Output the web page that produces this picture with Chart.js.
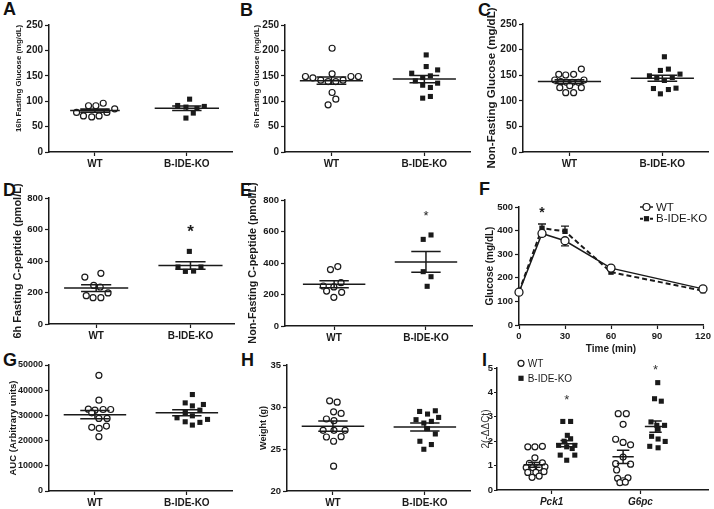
<!DOCTYPE html>
<html>
<head>
<meta charset="utf-8">
<script src="https://cdn.jsdelivr.net/npm/chart.js@4"></script>
<style>
	body { margin: 0; background: #fff; }
	#wrap { position: relative; width: 714px; height: 509px; overflow: hidden; font-family: "Liberation Sans", Arial, sans-serif; }
	.lbl { position: absolute; font-weight: bold; font-size: 18px; line-height: 18px; color: #111; }
</style>
</head>
<body>
<div id="wrap">
	<div class="lbl" style="left:3px;top:0px">A</div>
	<div class="lbl" style="left:240px;top:1px">B</div>
	<div class="lbl" style="left:478px;top:1px">C</div>
	<div class="lbl" style="left:3px;top:181px">D</div>
	<div class="lbl" style="left:240px;top:181px">E</div>
	<div class="lbl" style="left:479px;top:180px">F</div>
	<div class="lbl" style="left:3px;top:351px">G</div>
	<div class="lbl" style="left:241px;top:351px">H</div>
	<div class="lbl" style="left:482px;top:351px">I</div>
</div>
<script>
// groups on the x axis
const groups = ['WT', 'B-IDE-KO'];

// A - 16h fasting glucose (mg/dL)
const aWT = [78, 91, 91, 96, 71, 69, 71, 78, 85];
const aWTx = [-0.20, -0.07, 0.01, 0.09, -0.125, -0.035, 0.045, 0.13, 0.215];
const aKO = [91.6, 88.4, 104, 85.7, 76.6, 89.7, 66.8];
const aKOx = [-0.10, -0.01, 0.03, 0.11, 0.07, 0.19, -0.01];
const aMean = [81.5, 86.2];
const aSem = [3.2, 4.4];

// B - 6h fasting glucose (mg/dL)
const bWT = [148.6, 146, 141.4, 138.7, 138.7, 141.4, 148.6, 148.6, 153.8, 117.1, 104, 92.9, 204.2];
const bWTx = [-0.28, -0.2, -0.115, -0.036, 0.047, 0.125, 0.21, 0.29, 0.007, 0.007, 0.047, -0.036, 0.007];
const bKO = [155.1, 140, 191.1, 168.2, 146.6, 149.9, 161.6, 131.5, 127, 135.5, 106, 109.3];
const bKOx = [-0.136, -0.097, 0.02, 0.02, -0.018, 0.065, 0.143, -0.018, 0.065, 0.143, -0.018, 0.065];
const bMean = [140.5, 143.5];
const bSem = [7, 7];

// C - non-fasting glucose (mg/dL)
const cWT = [151.7, 150.4, 151.7, 162, 140.6, 137.4, 136, 136, 136, 140.6, 125.6, 129.6, 125.6, 115.9, 115.9];
const cWTx = [-0.115, -0.04, 0.045, 0.128, -0.158, -0.094, -0.033, 0.032, 0.096, 0.156, -0.104, 0.003, 0.128, -0.04, 0.045];
const cKO = [186, 159.3, 161.9, 148.8, 144.3, 139.7, 145.6, 152.1, 124, 122, 124.7, 113.6];
const cKOx = [0.022, -0.021, 0.065, -0.139, -0.06, 0.022, 0.107, 0.19, -0.096, 0.065, 0.147, -0.021];
const cMean = [137.5, 144];
const cSem = [3.5, 6];

// D - 6h fasting C-peptide (pmol/L)
const dWT = [298, 322, 245, 235, 180, 167, 167, 197];
const dWTx = [-0.12, 0.05, -0.026, 0.043, -0.105, -0.033, 0.05, 0.126];
const dKO = [461, 362, 334, 336, 362];
const dKOx = [-0.012, -0.132, -0.054, 0.033, 0.111];
const dMean = [228, 372];
const dSem = [21, 24];
const dStar = [2, 616];

// E - non-fasting C-peptide (pmol/L)
const eWT = [358, 377, 254, 248, 275, 222, 214, 182];
const eWTx = [-0.04, 0.04, -0.118, -0.003, 0.075, -0.082, 0.082, -0.003];
const eKO = [550, 578, 345, 313, 252];
const eKOx = [-0.03, 0.055, -0.03, 0.055, 0.013];
const eMean = [265, 407];
const eSem = [22, 66];
const eStar = [2, 717];

// F - glucose tolerance test
const fTime = [0, 15, 30, 60, 120];
const fWT = [139, 388, 357, 241, 153];
const fWTsem = [6, 10, 22, 8, 6];
const fKO = [141, 410, 397, 224, 145];
const fKOsem = [6, 18, 22, 8, 5];
const fStar = [15, 493];

// G - AUC (arbitrary units)
const gWT = [45900, 36030, 32480, 32080, 32350, 32350, 31020, 28800, 28800, 25260, 24860, 25770, 21550];
const gWTx = [0.043, 0.043, -0.072, 0, 0.089, 0.171, -0.035, 0.043, 0.132, -0.035, 0.046, 0.125, 0.043];
const gKO = [38280, 34970, 33780, 34330, 32080, 31170, 29050, 29830, 27470, 28410, 26160, 27230];
const gKOx = [0.06, -0.018, 0.06, 0.18, 0.142, -0.018, -0.107, 0.06, -0.018, 0.225, 0.06, 0.142];
const gMean = [30300, 31050];
const gSem = [1650, 1200];

// H - weight (g)
const hWT = [30.74, 30.58, 29.43, 29.24, 28.57, 28.37, 27.22, 27.22, 27.22, 26.43, 26.47, 25.92, 22.96];
const hWTx = [-0.036, 0.046, 0.007, 0.089, -0.071, 0.011, -0.107, 0.011, 0.132, -0.071, 0.089, 0.007, 0.007];
const hKO = [29.47, 29.16, 29.55, 28.49, 28.09, 28.29, 28.76, 27.42, 26.79, 25.92, 25.53, 24.97];
const hKOx = [-0.057, 0.029, 0.114, -0.096, -0.011, 0.071, 0.15, 0.029, 0.114, -0.054, 0.071, -0.011];
const hMean = [27.72, 27.62];
const hSem = [0.6, 0.47];

// I - gene expression 2(-ddCt)
const genes = ['Pck1', 'G6pc'];
const iWT1 = [1.77, 1.77, 1.79, 1.32, 1.09, 1.11, 0.92, 0.92, 0.92, 0.95, 0.72, 0.72, 0.75, 0.52, 0.57];
const iWT1x = [-0.073, 0.007, 0.091, 0.007, -0.055, 0.091, -0.091, -0.018, 0.055, 0.12, -0.073, 0.018, 0.109, -0.025, 0.055];
const iKO1 = [2.81, 2.81, 2.24, 2.1, 1.83, 2.0, 1.83, 1.77, 1.7, 1.43, 1.43, 1.22];
const iKO1x = [-0.044, 0.044, 0.007, 0.044, -0.091, -0.029, 0.091, 0, 0.062, -0.073, 0.091, 0];
const iWT2 = [3.13, 3.13, 2.69, 2.08, 1.95, 1.85, 1.35, 1.08, 1.06, 0.82, 0.48, 0.5, 0.38, 0.3, 0.32];
const iWT2x = [-0.055, 0.036, 0, -0.084, 0, 0.084, 0, -0.084, 0.084, -0.073, -0.062, 0.055, 0, -0.036, 0.025];
const iKO2 = [4.40, 3.74, 3.64, 2.79, 2.65, 2.65, 2.49, 2.2, 2.09, 1.99, 1.79, 1.73];
const iKO2x = [0.025, -0.011, 0.065, -0.051, 0.015, 0.102, 0.029, -0.044, 0.029, 0.109, -0.065, 0.029];
const iWTmean = [1.03, 1.36];
const iWTsem = [0.1, 0.27];
const iKOmean = [1.9, 2.6];
const iKOsem = [0.13, 0.23];
const iShift = [-0.195, 0.17];
const iStars = [[1.17, 3.83], [2.17, 5.05]];

const ink = '#1a1a1a';
const sans = '"Liberation Sans", Arial, sans-serif';
Chart.defaults.font.family = sans;

// stars, error bars and small legends
const extras = {
	id: 'extras',
	beforeDatasetsDraw(chart, args, opts) {
		const { ctx, scales: { x, y } } = chart;
		(opts.errors || []).forEach(e => {
			const ds = chart.data.datasets[e.ds];
			ctx.save();
			ctx.strokeStyle = ink;
			ctx.lineWidth = 1.3;
			ds.data.forEach((p, i) => {
				const px = x.getPixelForValue(p.x);
				const y0 = y.getPixelForValue(p.y);
				const y1 = y.getPixelForValue(p.y + e.dir * e.sem[i]);
				ctx.beginPath();
				ctx.moveTo(px, y0);
				ctx.lineTo(px, y1);
				ctx.moveTo(px - 4, y1);
				ctx.lineTo(px + 4, y1);
				ctx.stroke();
			});
			ctx.restore();
		});
	},
	afterDatasetsDraw(chart, args, opts) {
		const { ctx, scales: { x, y } } = chart;
		(opts.stars || []).forEach(s => {
			ctx.save();
			ctx.font = `${s.weight || 'bold'} ${s.size}px ${sans}`;
			ctx.fillStyle = s.color || ink;
			ctx.textAlign = 'center';
			ctx.textBaseline = 'alphabetic';
			ctx.fillText('*', x.getPixelForValue(s.x), y.getPixelForValue(s.y) + 0.57 * s.size);
			ctx.restore();
		});
		const lg = opts.legend;
		if (!lg) return;
		lg.items.forEach((it, i) => {
			const cy = lg.y + i * lg.gap;
			ctx.save();
			if (lg.line) {
				ctx.strokeStyle = ink;
				ctx.lineWidth = it.lw;
				ctx.setLineDash(it.dash || []);
				ctx.beginPath();
				ctx.moveTo(lg.x - lg.line, cy);
				ctx.lineTo(lg.x + lg.line, cy);
				ctx.stroke();
				ctx.setLineDash([]);
			}
			if (it.style === 'circle') {
				ctx.beginPath();
				ctx.arc(lg.x, cy, it.r, 0, 2 * Math.PI);
				ctx.fillStyle = '#fff';
				ctx.fill();
				ctx.lineWidth = 1.2;
				ctx.strokeStyle = ink;
				ctx.stroke();
			} else {
				ctx.fillStyle = ink;
				ctx.fillRect(lg.x - it.r, cy - it.r, 2 * it.r, 2 * it.r);
			}
			ctx.fillStyle = ink;
			ctx.font = `${lg.size}px ${sans}`;
			ctx.textAlign = 'left';
			ctx.textBaseline = 'middle';
			ctx.fillText(it.label, lg.tx, cy + 0.5);
			ctx.restore();
		});
	}
};

function dots(vals, offs, center, filled) {
	return {
		data: vals.map((v, i) => ({ x: center + offs[i], y: v })),
		pointStyle: filled ? 'rect' : 'circle',
		pointRadius: filled ? 3.6 : 3,
		pointBackgroundColor: filled ? ink : '#fff',
		pointBorderColor: ink,
		pointBorderWidth: filled ? 0 : 1.2,
		clip: false,
		order: 1
	};
}

// mean line with SEM bars, segments split by null
function meanSem(centers, means, sems, half, cap) {
	const pts = [];
	centers.forEach((c, i) => {
		const m = means[i], s = sems[i];
		const h = Array.isArray(half) ? half[i] : half;
		pts.push({ x: c - h, y: m }, { x: c + h, y: m }, { x: c, y: null });
		pts.push({ x: c - cap, y: m + s }, { x: c + cap, y: m + s }, { x: c, y: null });
		pts.push({ x: c - cap, y: m - s }, { x: c + cap, y: m - s }, { x: c, y: null });
		pts.push({ x: c, y: m - s }, { x: c, y: m + s }, { x: c, y: null });
	});
	return {
		data: pts, showLine: true, spanGaps: false, borderColor: ink, borderWidth: 1.5,
		pointRadius: 0, fill: false, order: 0
	};
}

function panel(p) {
	const [bl, bt, bw, bh] = p.box;
	const [L, T, R, B] = p.area;
	const canvas = document.createElement('canvas');
	canvas.width = bw;
	canvas.height = bh;
	canvas.style.cssText = `position:absolute;left:${bl}px;top:${bt}px;width:${bw}px;height:${bh}px`;
	document.getElementById('wrap').appendChild(canvas);
	const xGrid = { drawOnChartArea: false, tickLength: 4, color: ink, tickWidth: 1.2 };
	const yGrid = { drawOnChartArea: false, tickLength: p.yTick || 4, color: ink, tickWidth: 1.2 };
	return new Chart(canvas, {
		type: 'scatter',
		data: { datasets: p.datasets },
		options: {
			responsive: false,
			animation: false,
			layout: { padding: { left: 0, top: T - bt, right: bl + bw - R, bottom: 0 } },
			plugins: { legend: { display: false }, tooltip: { enabled: false }, extras: p.extras || {} },
			scales: {
				x: {
					type: 'linear', min: p.x[0], max: p.x[1],
					afterFit: s => { s.height = bt + bh - B; },
					afterBuildTicks: p.xTicks ? s => { s.ticks = p.xTicks.map(v => ({ value: v })); } : undefined,
					ticks: {
						stepSize: p.xStep,
						callback: p.xLabels ? (v, i) => p.xLabels[i] : v => v,
						color: ink, padding: 2, maxRotation: 0, autoSkip: false,
						font: { size: p.xSize || 10, weight: 'bold', style: p.xItalic ? 'italic' : 'normal' }
					},
					grid: xGrid,
					border: { color: ink, width: 1.5 },
					title: p.xTitle
						? { display: true, text: p.xTitle, color: ink, font: { size: 10, weight: 'bold' }, padding: { top: 0, bottom: 3 } }
						: { display: false }
				},
				y: {
					min: p.y[0], max: p.y[1],
					afterFit: s => { s.width = L - bl; },
					ticks: {
						stepSize: p.y[2], color: ink, padding: p.yPad || 2, callback: v => v,
						font: { size: p.tickSize || 10, weight: 'bold' }
					},
					grid: yGrid,
					border: { color: ink, width: 1.5 },
					title: {
						display: true, text: p.yTitle, color: p.tColor || ink, align: p.tAlign || 'center',
						font: { size: p.tSize, weight: p.tWeight || 'bold' },
						padding: { top: p.tPad, bottom: 0 }
					}
				}
			}
		},
		plugins: [extras]
	});
}

function dotPanel(p, wt, wtx, ko, kox, mean, sem, half) {
	p.xTicks = [1, 2];
	p.xLabels = groups;
	p.datasets = [
		meanSem([1, 2], mean, sem, half || 0.34, 0.16),
		dots(wt, wtx, 1, false),
		dots(ko, kox, 2, true)
	];
	return panel(p);
}

dotPanel({ box: [0, 0, 238, 170], area: [49, 25, 234, 152], x: [0.5, 2.5], y: [0, 250, 50],
	yTitle: '16h Fasting Glucose (mg/dL)', tSize: 7.8, tPad: 14.3, tAlign: 'end' },
	aWT, aWTx, aKO, aKOx, aMean, aSem, [0.27, 0.35]);

dotPanel({ box: [238, 0, 238, 170], area: [285, 25, 472, 152], x: [0.5, 2.5], y: [0, 250, 50],
	yTitle: '6h Fasting Glucose (mg/dL)', tSize: 7.8, tPad: 14.3, tAlign: 'end' },
	bWT, bWTx, bKO, bKOx, bMean, bSem);

dotPanel({ box: [476, 0, 238, 170], area: [523, 24, 710, 152], x: [0.5, 2.5], y: [0, 250, 50],
	yTitle: 'Non-Fasting Glucose (mg/dL)', tSize: 11.5, tPad: 8.6 },
	cWT, cWTx, cKO, cKOx, cMean, cSem);

dotPanel({ box: [0, 168, 240, 182], area: [49, 198, 240, 324], x: [0.5, 2.47], y: [0, 800, 200],
	yTitle: '6h Fasting C-peptide (pmol/L)', tSize: 11, tPad: 10.9, tickSize: 9.5,
	extras: { stars: [{ x: dStar[0], y: dStar[1], size: 17 }] } },
	dWT, dWTx, dKO, dKOx, dMean, dSem);

dotPanel({ box: [238, 168, 240, 182], area: [285, 200, 476, 326], x: [0.465, 2.51], y: [0, 800, 200],
	yTitle: 'Non-Fasting C-peptide (pmol/L)', tSize: 10.8, tPad: 8.5, tickSize: 9.5,
	extras: { stars: [{ x: eStar[0], y: eStar[1], size: 13, weight: 'normal' }] } },
	eWT, eWTx, eKO, eKOx, eMean, eSem);

// F - time course
panel({ box: [476, 168, 238, 190], area: [519, 207, 703, 325], x: [0, 120], xStep: 30, y: [0, 500, 100],
	xTitle: 'Time (min)', xSize: 9.5, tickSize: 9.5,
	yTitle: 'Glucose (mg/dL)', tSize: 10, tPad: 8,
	datasets: [
		{
			data: fTime.map((t, i) => ({ x: t, y: fWT[i] })), showLine: true, borderColor: ink, borderWidth: 1.5,
			pointStyle: 'circle', pointRadius: 4, pointBackgroundColor: '#fff', pointBorderColor: ink,
			pointBorderWidth: 1.3, clip: false, order: 0
		},
		{
			data: fTime.map((t, i) => ({ x: t, y: fKO[i] })), showLine: true, borderColor: ink, borderWidth: 2,
			borderDash: [5, 3], pointStyle: 'rect', pointRadius: 3.8, pointBackgroundColor: ink,
			pointBorderWidth: 0, clip: false, order: 1
		}
	],
	extras: {
		errors: [{ ds: 0, dir: -1, sem: fWTsem }, { ds: 1, dir: 1, sem: fKOsem }],
		stars: [{ x: fStar[0], y: fStar[1], size: 14 }],
		legend: {
			x: 170.5, y: 39, gap: 11.7, line: 6.5, tx: 180, size: 11.5,
			items: [
				{ label: groups[0], style: 'circle', r: 3.5, lw: 1.5 },
				{ label: groups[1], style: 'rect', r: 2.6, lw: 2, dash: [3, 2] }
			]
		}
	}
});

dotPanel({ box: [0, 338, 238, 171], area: [49, 365, 234, 491], x: [0.5, 2.5], y: [0, 50000, 10000],
	yTitle: 'AUC (Arbitrary units)', tSize: 9.5, tPad: 8, tickSize: 9 },
	gWT, gWTx, gKO, gKOx, gMean, gSem);

dotPanel({ box: [238, 338, 238, 171], area: [287, 365, 472, 491], x: [0.5, 2.5], y: [20, 35, 5],
	yTitle: 'Weight (g)', tSize: 9, tPad: 20.6, tickSize: 9.5 },
	hWT, hWTx, hKO, hKOx, hMean, hSem);

// I - two genes, two groups each
panel({ box: [476, 338, 238, 171], area: [497, 368, 714, 490], x: [0.385, 2.77], y: [0, 5, 1],
	xTicks: [1, 2], xLabels: genes, xItalic: true, tickSize: 9.5, yTick: 3, yPad: 1,
	yTitle: '2(-ΔΔCt)', tSize: 10, tWeight: 'normal', tPad: 4, tColor: '#333',
	datasets: [
		meanSem([1 + iShift[0], 2 + iShift[0]], iWTmean, iWTsem, 0.12, 0.07),
		meanSem([1 + iShift[1], 2 + iShift[1]], iKOmean, iKOsem, 0.12, 0.07),
		dots(iWT1, iWT1x, 1 + iShift[0], false),
		dots(iKO1, iKO1x, 1 + iShift[1], true),
		dots(iWT2, iWT2x, 2 + iShift[0], false),
		dots(iKO2, iKO2x, 2 + iShift[1], true)
	],
	extras: {
		stars: iStars.map(s => ({ x: s[0], y: s[1], size: 13, weight: 'normal', color: '#333' })),
		legend: {
			x: 45, y: 25.3, gap: 15, line: 0, tx: 51.7, size: 10,
			items: [
				{ label: groups[0], style: 'circle', r: 3 },
				{ label: groups[1], style: 'rect', r: 2.6 }
			]
		}
	}
});
</script>
</body>
</html>
